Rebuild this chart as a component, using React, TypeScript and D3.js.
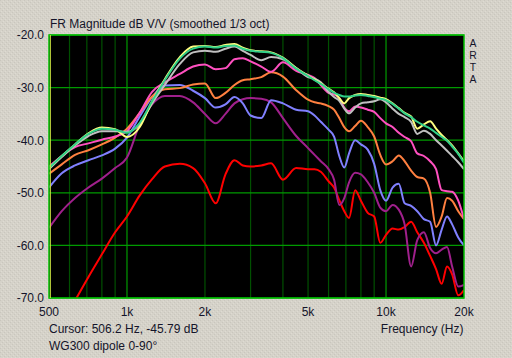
import React from "react";
import * as d3 from "d3";

// Frequency grid (Hz) shared by all curves
const FREQS = [
  500, 560, 630, 710, 800, 900, 1000, 1120, 1250, 1400, 1600, 1800, 2000, 2200, 2400, 2600, 2800,
  3000, 3300, 3600, 4000, 4500, 5000, 5300, 5600, 6000, 6300, 6600, 6900, 7200, 7600, 8000, 8500,
  9000, 9500, 10000, 10600, 11200, 11800, 12500, 13200, 14000, 14800, 15600, 16400, 17200, 18000,
  19000, 20000,
];

// dB V/V values per curve
const GRAY = [
  -45.5, -43.2, -41, -39.2, -38.3, -38.3, -38.4, -37, -33, -29.5, -25.5, -23.3, -23, -23.2, -22.6, -22.2, -23,
  -23.8, -24.8, -24.2, -24.6, -26.3, -28, -28.3, -29, -30.8, -31.8, -32.5, -34, -34.9, -33.8, -33, -32.8,
  -32.6, -32.2, -32.8, -34, -35, -35.6, -36.5, -38.8, -38.2, -38.8, -40, -41, -42, -43,
  -44.2, -45.5,
];
const YELLOW = [
  -45.3, -43, -40.8, -38.7, -37.6, -37.9, -39.4, -37.5, -32.6, -28.4, -24.2, -22.2, -22.1, -22.3, -21.9, -21.7, -22.4,
  -22.9, -23.1, -23.3, -24.3, -26.3, -27.7, -28.5, -29.2, -30.2, -30.9, -32, -33, -32, -31.4, -31.2, -31.4,
  -31.6, -31.9, -32.2, -33, -33.9, -34.8, -35.5, -37.8, -37, -36.4, -37.8, -39, -40, -41,
  -42.5, -44,
];
const GREEN = [
  -45.3, -43, -40.8, -38.8, -37.8, -38, -38.6, -36.7, -32.6, -28.6, -24.5, -22.6, -22.2, -22.4, -22.1, -22, -22.6,
  -23, -23.2, -23.4, -24.4, -26.4, -27.8, -28.6, -29.3, -30.3, -31, -31.4, -31.7, -31.7, -31.5, -31.4, -31.6,
  -31.8, -32.1, -32.4, -33.1, -34, -34.9, -35.6, -36.5, -37.2, -37.8, -38.6, -39.4, -40.1, -41.2,
  -42.6, -44.3,
];
const PINK = [
  -45, -43, -41.3, -40.6, -39.9, -39.3, -38.3, -34.8, -30.8, -29, -27.4, -26, -25.6, -26.5, -26.3, -24.6, -24.4,
  -25, -26, -27, -25.2, -26.8, -27.6, -28.2, -29.5, -31, -31.3, -32, -33.8, -34.5, -33.6, -33.8, -34.2,
  -34.6, -35.8, -36.8, -37.5, -38.6, -39.4, -40.2, -42.5, -43, -44, -45.5, -49.5, -49.7, -49.8,
  -51.5, -55,
];
const ORANGE = [
  -46.4, -44.6, -42.8, -41.9, -40.8, -39.5, -37.8, -34.8, -31.7, -30.3, -30.1, -29.4, -29.2, -32, -31, -29.5, -28.6,
  -28.4, -28, -27.1, -27.9, -30.5, -32.3, -32.8, -33, -33.5, -34.2, -35.8, -37.5, -38.3, -37.3, -36.3, -37.5,
  -39.3, -42.8, -44.6, -44, -42.9, -44, -45.8, -47, -47.3, -50, -56.5, -54.5, -51, -51.5,
  -53.5, -55,
];
const BLUE = [
  -49, -46.3, -44.8, -43.8, -42.9, -41.6, -39.5, -35.5, -31.8, -29.6, -29.5, -30.6, -32, -33.8, -33.2, -31.8, -33,
  -35.3, -35.8, -32.4, -33, -34.2, -34.5, -35.3, -36.5, -38, -39.3, -43, -45.2, -42.5, -40, -40.8, -41.8,
  -44.5, -49.5, -51.5, -49, -48.3, -52, -52.5, -53.5, -55, -55.5, -60, -57, -54.5, -56,
  -58.5, -60,
];
const PURPLE = [
  -56.7, -53.5, -51, -49, -47.3, -45.3, -43.3, -37, -33.2, -31.6, -31.6, -32.8, -35, -36.8, -35, -33, -32.2,
  -32, -32.1, -32.8, -35.8, -39.2, -41.5, -42.8, -44, -45.5, -47.5, -52.3, -51, -48, -46.2, -46.5, -48,
  -50, -52.8, -53.5, -52.3, -53.2, -56, -64, -59, -57.5, -60.5, -61.5, -60.8, -60.3, -64,
  -67.8, -67.5,
];
const RED = [
  -79, -75, -70.5, -66, -61.7, -57.5, -54.5, -50.5, -47.4, -45, -44.5, -45.3, -48.2, -52, -46.5, -43.8, -44.8,
  -45, -44.8, -44.4, -47.5, -45.3, -45.5, -45.5, -46, -47.8, -49, -51.4, -53.5, -54.8, -49.5, -51.5, -53.8,
  -54.5, -59.5, -58, -56.8, -57, -56.5, -55.5, -57.5, -59.5, -62, -64.5, -67.3, -64, -65.5,
  -69.5, -68.5,
];

const SERIES_ORDER = [RED, PURPLE, BLUE, ORANGE, PINK, GRAY, YELLOW, GREEN];
const SERIES_COLORS = ["#ff0000", "#a0208c", "#8080ff", "#ff8040", "#ff50c0", "#c0c0c0", "#ffff80", "#30d088"];

const Y_TICKS = [-20, -30, -40, -50, -60, -70];
const X_LABELS: [number, string][] = [
  [500, "500"], [1000, "1k"], [2000, "2k"], [5000, "5k"], [10000, "10k"], [20000, "20k"],
];
const X_GRID_MINOR = [600, 700, 800, 900, 2000, 3000, 4000, 5000, 6000, 7000, 8000, 9000];
const X_GRID_MAJOR = [1000, 10000];
const CURSOR_FREQ = 506.2;

const TITLE = "FR Magnitude dB V/V (smoothed 1/3 oct)";
const CURSOR_TEXT = "Cursor: 506.2 Hz, -45.79 dB";
const NOTE_TEXT = "WG300 dipole 0-90°";
const X_TITLE = "Frequency (Hz)";
const BRAND = ["A", "R", "T", "A"];

export default function App() {
  const W = 512, H = 358;
  const L = 49, R = 464, T = 35, B = 298;
  const x = d3.scaleLog().domain([500, 20000]).range([L, R]);
  const y = d3.scaleLinear().domain([-70, -20]).range([B, T]);
  const line = d3
    .line<number>()
    .x((_, i) => x(FREQS[i]))
    .y((d) => y(d))
    .curve(d3.curveMonotoneX);
  const font = "'Liberation Sans', Arial, sans-serif";
  const txt = "#14142a";
  return (
    <svg
      width={W}
      height={H}
      style={{ position: "absolute", left: 0, top: 0, display: "block" }}
      fontFamily={font}
    >
      <defs>
        <clipPath id="plot">
          <rect x={L} y={T} width={R - L} height={B - T} />
        </clipPath>
        <pattern id="dither" width="4" height="4" patternUnits="userSpaceOnUse">
          <rect width="4" height="4" fill="#d5d2c9" />
          <rect x="0" y="0" width="1" height="1" fill="#c9c6bd" />
          <rect x="2" y="2" width="1" height="1" fill="#c9c6bd" />
          <rect x="1" y="3" width="1" height="1" fill="#dedbd2" />
          <rect x="3" y="1" width="1" height="1" fill="#dedbd2" />
        </pattern>
      </defs>
      <rect x={0} y={0} width={W} height={H} fill="url(#dither)" />
      <rect x={L} y={T} width={R - L} height={B - T} fill="#000" />
      {X_GRID_MINOR.map((f) => (
        <line key={"mn" + f} x1={x(f)} x2={x(f)} y1={T} y2={B} stroke="#005000" strokeWidth={1.2} />
      ))}
      {X_GRID_MAJOR.map((f) => (
        <line key={"mj" + f} x1={x(f)} x2={x(f)} y1={T} y2={B} stroke="#009a00" strokeWidth={1.2} />
      ))}
      {Y_TICKS.map((v) => (
        <line key={"h" + v} x1={L} x2={R} y1={y(v)} y2={y(v)} stroke="#009a00" strokeWidth={1.2} />
      ))}
      <g clipPath="url(#plot)">
        {SERIES_ORDER.map((s, i) => (
          <path
            key={i}
            d={line(s) || ""}
            fill="none"
            stroke={SERIES_COLORS[i]}
            strokeWidth={2}
            strokeLinejoin="round"
          />
        ))}
      </g>
      <rect x={L} y={T} width={R - L} height={B - T} fill="none" stroke="#00c000" strokeWidth={1.5} />
      <line x1={x(CURSOR_FREQ)} x2={x(CURSOR_FREQ)} y1={T} y2={B} stroke="#c8e040" strokeWidth={1} />
      <text x={50} y={28} fontSize={12} fill={txt}>{TITLE}</text>
      {Y_TICKS.map((v) => (
        <text key={"yl" + v} x={44} y={y(v) + 4.3} fontSize={12} fill={txt} textAnchor="end">
          {v.toFixed(1)}
        </text>
      ))}
      {X_LABELS.map(([f, s]) => (
        <text key={"xl" + f} x={x(f)} y={316} fontSize={12} fill={txt} textAnchor="middle">
          {s}
        </text>
      ))}
      {BRAND.map((c, i) => (
        <text key={"b" + i} x={473} y={46.5 + i * 12} fontSize={10.4} fill={txt} textAnchor="middle">
          {c}
        </text>
      ))}
      <text x={49} y={333} fontSize={12} fill={txt}>{CURSOR_TEXT}</text>
      <text x={49} y={350} fontSize={12} fill={txt}>{NOTE_TEXT}</text>
      <text x={463.5} y={333} fontSize={12} fill={txt} textAnchor="end">{X_TITLE}</text>
    </svg>
  );
}
